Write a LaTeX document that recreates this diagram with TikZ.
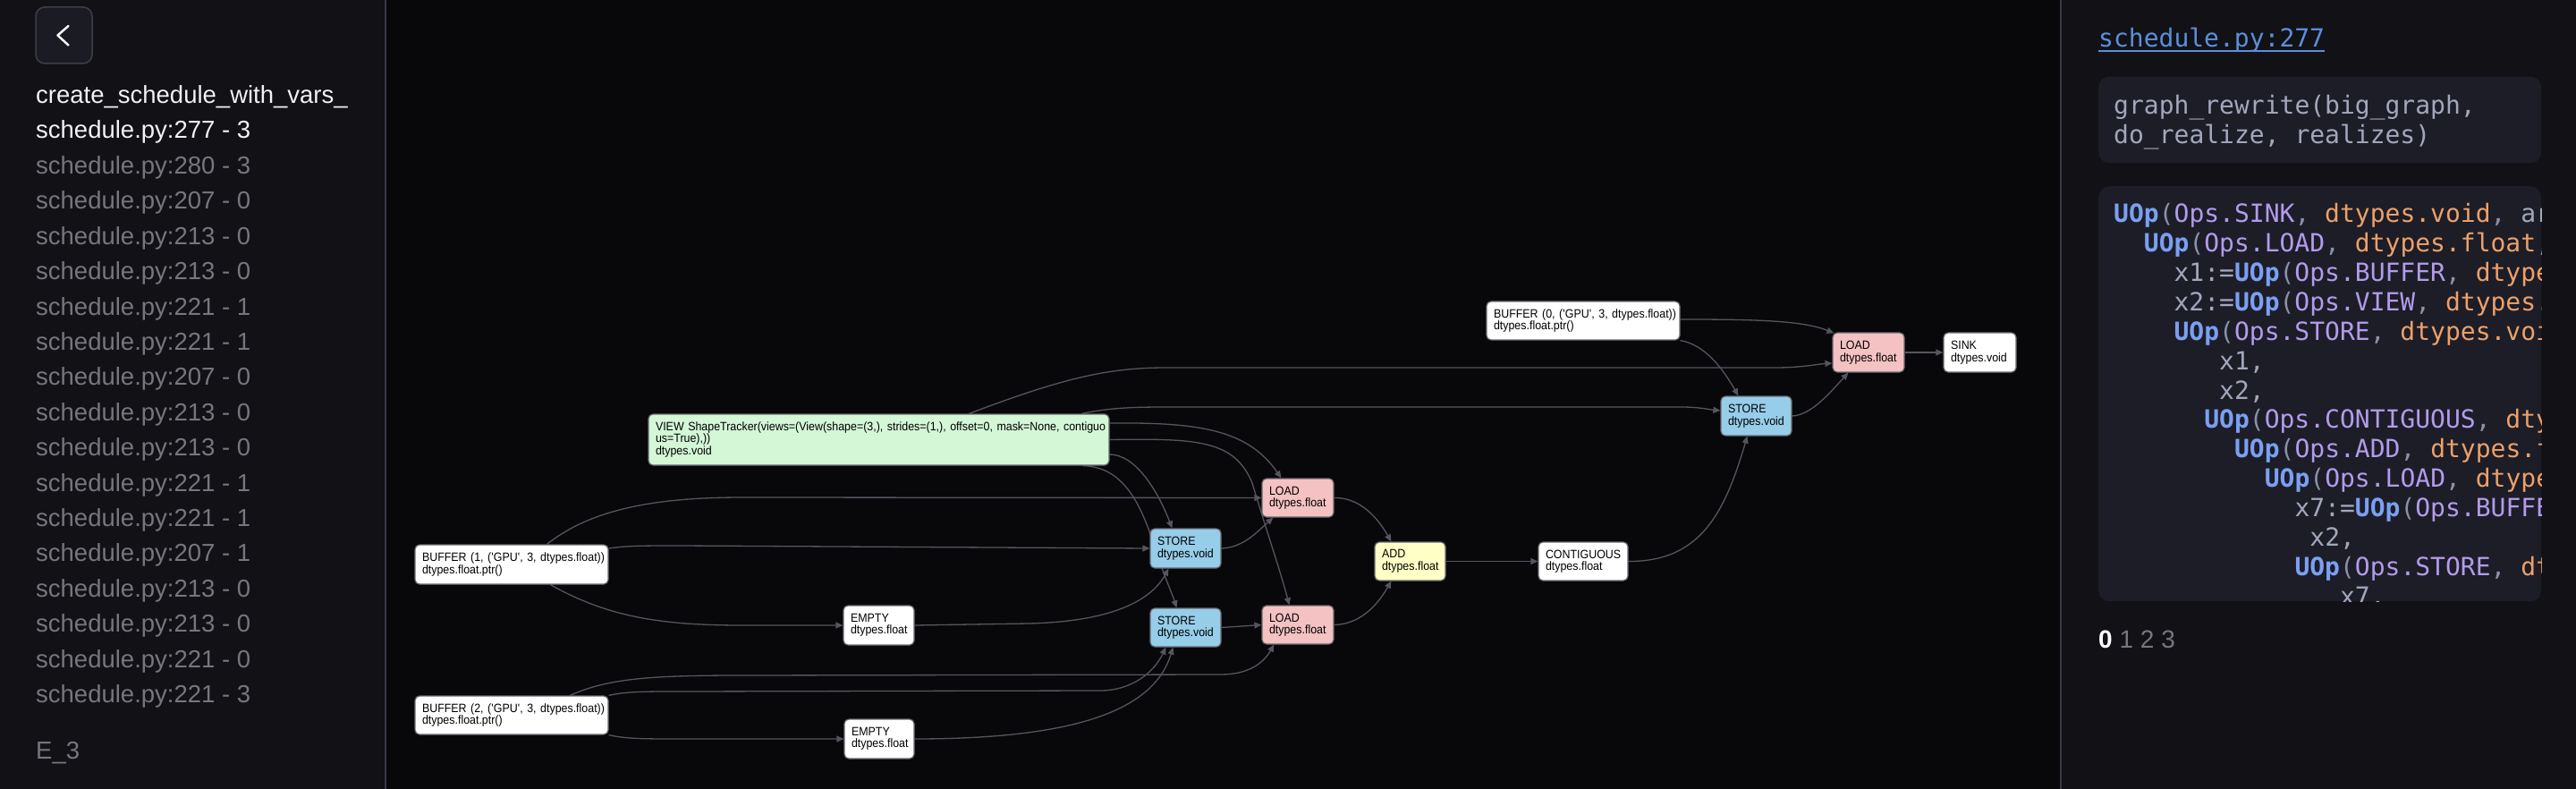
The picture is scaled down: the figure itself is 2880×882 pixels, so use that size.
\documentclass[tikz,border=0pt]{standalone}
\usepackage{fontspec}
\setmainfont{Liberation Sans}
\setmonofont{DejaVu Sans Mono}
\newfontfamily\nodefont{Liberation Sans}[FakeStretch=0.92]
\usetikzlibrary{arrows.meta,calc}
\pgfdeclarelayer{bg}
\pgfdeclarelayer{edges}
\pgfsetlayers{bg,edges,main}
\definecolor{bgmain}{HTML}{08080B}
\definecolor{panel}{HTML}{111116}
\definecolor{divider}{HTML}{3A3A46}
\definecolor{btnfill}{HTML}{1B1B23}
\definecolor{btnborder}{HTML}{3E3E4A}
\definecolor{lpwhite}{HTML}{F2F2F2}
\definecolor{lpgray}{HTML}{76767E}
\definecolor{linkcol}{HTML}{5B8FDB}
\definecolor{codebg}{HTML}{1C1D27}
\definecolor{cgray}{HTML}{A3A7BC}
\definecolor{cblue}{HTML}{7B9FF2}
\definecolor{clav}{HTML}{B39BEA}
\definecolor{corange}{HTML}{ECA06A}
\definecolor{cpunct}{HTML}{8D91A8}
\definecolor{nborder}{HTML}{6A6A72}
\definecolor{nfpink}{HTML}{F4C2C2}
\definecolor{nfblue}{HTML}{96CDE9}
\definecolor{nfgreen}{HTML}{D4F7D6}
\definecolor{nfyellow}{HTML}{FFFFC6}
\definecolor{edgecol}{HTML}{55555F}
\newcommand\apos{\textquotesingle}
\newcommand\cUop{\textcolor{cblue}{\bfseries UOp}}
\newcommand\cOps[1]{\textcolor{clav}{#1}}
\newcommand\cDt[1]{\textcolor{corange}{#1}}
\newcommand\cP[1]{\textcolor{cpunct}{#1}}
\newcommand\cV[1]{\textcolor{cgray}{#1}}
\newcommand\twoln[2]{\mbox{#1}\\\mbox{#2}}
\tikzset{
  gnode/.style={draw=nborder, line width=1.2pt, rounded corners=5pt, inner xsep=8pt, inner ysep=0pt,
    align=left, text=black, font=\nodefont\fontsize{13.5pt}{13.5pt}\selectfont},
  wnode/.style={gnode, fill=white},
  pnode/.style={gnode, fill=nfpink},
  bnode/.style={gnode, fill=nfblue},
  gnnode/.style={gnode, fill=nfgreen},
  ynode/.style={gnode, fill=nfyellow},
  conn/.style={draw=edgecol, line width=1.3pt, -{Triangle[length=8pt,width=7pt]}},
  lptext/.style={anchor=base west, inner sep=0pt, font=\fontsize{27.5pt}{33pt}\selectfont},
  codetxt/.style={anchor=base west, inner sep=0pt, font=\ttfamily\fontsize{28pt}{33pt}\selectfont},
  codebox/.style={fill=codebg, rounded corners=12pt, anchor=north west, inner sep=0pt},
}
\begin{document}
\begin{tikzpicture}[x=1pt,y=-1pt]
\useasboundingbox (0,0) rectangle (2880,882);
\begin{pgfonlayer}{bg}
  \fill[bgmain] (0,0) rectangle (2880,882);
  \fill[panel] (0,0) rectangle (431,882);
  \fill[panel] (2304,0) rectangle (2880,882);
  \draw[divider, line width=2pt] (431,0) -- (431,882);
  \draw[divider, line width=1.5pt] (2304,0) -- (2304,882);
\end{pgfonlayer}

% ---------- left panel ----------
\node[draw=btnborder, fill=btnfill, line width=1.5pt, rounded corners=10pt, minimum width=63pt, minimum height=63pt, inner sep=0pt] (back) at (71.5,39.5) {};
\draw[lpwhite, line width=2.5pt, line cap=round, line join=round]
  ($(back.center)+(5,-10.5)$) -- ($(back.center)+(-7,0)$) -- ($(back.center)+(5,11)$);
\node[lptext, text=lpwhite] (title) at (40,116) {create\_schedule\_with\_vars\_};
\node[lptext, text=lpwhite] (cur) at (40,155) {schedule.py:277 - 3};
\foreach \t [count=\i] in {280 - 3, 207 - 0, 213 - 0, 213 - 0, 221 - 1, 221 - 1, 207 - 0, 213 - 0, 213 - 0, 221 - 1, 221 - 1, 207 - 1, 213 - 0, 213 - 0, 221 - 0, 221 - 3}
  \node[lptext, text=lpgray] (row\i) at (40,{194.5+39.4*(\i-1)}) {schedule.py:\t};
\node[lptext, text=lpgray] (kname) at (40,848) {E\_3};

% ---------- right panel ----------
\node[codetxt, text=linkcol] (link) at (2346,53) {schedule.py:277};
\draw[linkcol, line width=1.5pt] ($(link.base west)+(0,4)$) -- ($(link.base east)+(0,4)$);
\node[codebox, minimum width=495pt, minimum height=96.5pt] (srcbox) at (2346,85.5) {};
\node[codetxt, text=cgray] (src1) at (2363,128) {graph\_rewrite(big\_graph,};
\node[codetxt, text=cgray] (src2) at (2363,161) {do\_realize, realizes)};
\node[codebox, minimum width=495pt, minimum height=464pt] (uopbox) at (2346,208) {};
\begin{scope}
  \clip[rounded corners=12pt] (uopbox.north west) rectangle (uopbox.south east);
  \node[codetxt] (u1) at (2363,249) {\cUop\cP{(}\cOps{Ops.SINK}\cP{, }\cDt{dtypes.void}\cP{, }\cV{ar}};
  \node[codetxt] (u2) at (2396.7,281.85) {\cUop\cP{(}\cOps{Ops.LOAD}\cP{, }\cDt{dtypes.float}\cP{,}};
  \node[codetxt] (u3) at (2430.4,314.7) {\cV{x1:=}\cUop\cP{(}\cOps{Ops.BUFFER}\cP{, }\cDt{dtype}};
  \node[codetxt] (u4) at (2430.4,347.55) {\cV{x2:=}\cUop\cP{(}\cOps{Ops.VIEW}\cP{, }\cDt{dtypes.}};
  \node[codetxt] (u5) at (2430.4,380.4) {\cUop\cP{(}\cOps{Ops.STORE}\cP{, }\cDt{dtypes.voi}};
  \node[codetxt] (u6) at (2481.0,413.25) {\cV{x1,}};
  \node[codetxt] (u7) at (2481.0,446.1) {\cV{x2,}};
  \node[codetxt] (u8) at (2464.1,478.95) {\cUop\cP{(}\cOps{Ops.CONTIGUOUS}\cP{, }\cDt{dty}};
  \node[codetxt] (u9) at (2497.9,511.8) {\cUop\cP{(}\cOps{Ops.ADD}\cP{, }\cDt{dtypes.f}};
  \node[codetxt] (u10) at (2531.6,544.65) {\cUop\cP{(}\cOps{Ops.LOAD}\cP{, }\cDt{dtype}};
  \node[codetxt] (u11) at (2565.3,577.5) {\cV{x7:=}\cUop\cP{(}\cOps{Ops.BUFFE}};
  \node[codetxt] (u12) at (2582.2,610.35) {\cV{x2,}};
  \node[codetxt] (u13) at (2565.3,643.2) {\cUop\cP{(}\cOps{Ops.STORE}\cP{, }\cDt{dt}};
  \node[codetxt] (u14) at (2615.9,676.05) {\cV{x7,}};
\end{scope}
\node[anchor=base west, inner sep=0pt, font=\fontsize{28pt}{33pt}\selectfont] (pages) at (2346,724)
  {\textcolor{white}{\bfseries 0} \textcolor{lpgray}{1 2 3}};

% ---------- graph nodes ----------
\node[wnode, text width=200pt, minimum height=43pt] (buf0) at (1770,358.5) {\twoln{BUFFER (0, (\apos GPU\apos, 3, dtypes.float))}{dtypes.float.ptr()}};
\node[pnode, text width=64pt, minimum height=44pt] (load0) at (2089,394) {\twoln{LOAD}{dtypes.float}};
\node[wnode, text width=65pt, minimum height=44pt] (sink) at (2213.5,394) {\twoln{SINK}{dtypes.void}};
\node[bnode, text width=63pt, minimum height=44pt] (store0) at (1963.5,465) {\twoln{STORE}{dtypes.void}};
\node[gnnode, text width=499pt, minimum height=57pt] (view) at (982.5,491.5)
  {\mbox{VIEW ShapeTracker(views=(View(shape=(3,), strides=(1,), offset=0, mask=None, contiguo}\\\mbox{us=True),))}\\\mbox{dtypes.void}};
\node[pnode, text width=64pt, minimum height=43pt] (load1) at (1451,556.5) {\twoln{LOAD}{dtypes.float}};
\node[bnode, text width=63pt, minimum height=44pt] (store1) at (1325.5,613) {\twoln{STORE}{dtypes.void}};
\node[wnode, text width=200pt, minimum height=44pt] (buf1) at (572,631) {\twoln{BUFFER (1, (\apos GPU\apos, 3, dtypes.float))}{dtypes.float.ptr()}};
\node[ynode, text width=63pt, minimum height=43pt] (add) at (1576.5,627.5) {\twoln{ADD}{dtypes.float}};
\node[wnode, text width=84pt, minimum height=43pt] (cont) at (1770,627.5) {\twoln{CONTIGUOUS}{dtypes.float}};
\node[wnode, text width=63pt, minimum height=44pt] (empty1) at (982.5,699) {\twoln{EMPTY}{dtypes.float}};
\node[pnode, text width=64pt, minimum height=43pt] (load2) at (1451,698.5) {\twoln{LOAD}{dtypes.float}};
\node[bnode, text width=63pt, minimum height=43pt] (store2) at (1325.5,701.5) {\twoln{STORE}{dtypes.void}};
\node[wnode, text width=200pt, minimum height=43pt] (buf2) at (572,799.5) {\twoln{BUFFER (2, (\apos GPU\apos, 3, dtypes.float))}{dtypes.float.ptr()}};
\node[wnode, text width=62pt, minimum height=44pt] (empty2) at (983,826) {\twoln{EMPTY}{dtypes.float}};

% ---------- connectors ----------
\begin{pgfonlayer}{edges}
\draw[conn] ($(view.north west)+(359,0)$) .. controls (1190,422) and (1240,411) .. (1304,411) -- (1985,411)
  .. controls (2015,411) and (2032,407) .. ($(load0.west)+(0,12)$);
\draw[conn] ($(view.north west)+(485,0)$) .. controls (1240,456) and (1265,455) .. (1304,455) -- (1880,455)
  .. controls (1900,455) and (1912,458) .. ($(store0.west)+(0,-6)$);
\draw[conn] ($(view.east)+(0,-18.5)$) .. controls (1340,472) and (1395,480) .. ($(load1.north west)+(22,0)$);
\draw[conn] (view.east) .. controls (1340,490) and (1380,492) .. (1400,540)
  .. controls (1418,600) and (1432,640) .. ($(load2.north west)+(31,0)$);
\draw[conn] ($(view.east)+(0,16.5)$) .. controls (1270,508) and (1295,550) .. ($(store1.north west)+(25,0)$);
\draw[conn] ($(view.south east)+(-30,0)$) .. controls (1255,522) and (1275,560) .. (1292,615)
  .. controls (1302,645) and (1311,665) .. ($(store2.north west)+(30,0)$);
\draw[conn] ($(buf1.north west)+(148,0)$) .. controls (660,570) and (730,556) .. (830,556) -- (load1.west);
\draw[conn] ($(buf1.east)+(0,-18)$) .. controls (700,610) and (720,610) .. (760,610) -- (store1.west);
\draw[conn] ($(buf1.south west)+(152,0)$) .. controls (680,690) and (740,699) .. (830,699) -- (empty1.west);
\draw[conn] (empty1.east) -- (1150,697) .. controls (1235,695) and (1285,675) .. ($(store1.south west)+(21,0)$);
\draw[conn] ($(buf2.north west)+(174,0)$) .. controls (680,758) and (730,755) .. (830,755) -- (1365,754)
  .. controls (1395,754) and (1412,742) .. ($(load2.south west)+(14,0)$);
\draw[conn] (buf2.north east) .. controls (700,773) and (720,773) .. (760,773) -- (1230,772)
  .. controls (1265,772) and (1290,752) .. ($(store2.south west)+(18,0)$);
\draw[conn] (buf2.south east) .. controls (700,826) and (720,826) .. (760,826) -- (empty2.west);
\draw[conn] (empty2.east) .. controls (1200,826) and (1290,795) .. ($(store2.south west)+(26,0)$);
\draw[conn] (store1.east) .. controls (1390,612) and (1405,595) .. ($(load1.south west)+(13,0)$);
\draw[conn] (store2.east) -- (load2.west);
\draw[conn] (load1.east) .. controls (1518,556) and (1538,575) .. ($(add.north west)+(19,0)$);
\draw[conn] (load2.east) .. controls (1518,698) and (1538,680) .. ($(add.south west)+(19,0)$);
\draw[conn] (add.east) -- (cont.west);
\draw[conn] (cont.east) .. controls (1900,628) and (1928,575) .. ($(store0.south west)+(30,0)$);
\draw[conn] (buf0.south east) .. controls (1905,385) and (1925,410) .. ($(store0.north west)+(20,0)$);
\draw[conn] ($(buf0.east)+(0,-1.5)$) .. controls (1960,357) and (2015,358) .. ($(load0.north west)+(2,1)$);
\draw[conn] (store0.east) .. controls (2025,464) and (2045,440) .. ($(load0.south west)+(18,0)$);
\draw[conn] (load0.east) -- (sink.west);
\end{pgfonlayer}
\end{tikzpicture}
\end{document}
